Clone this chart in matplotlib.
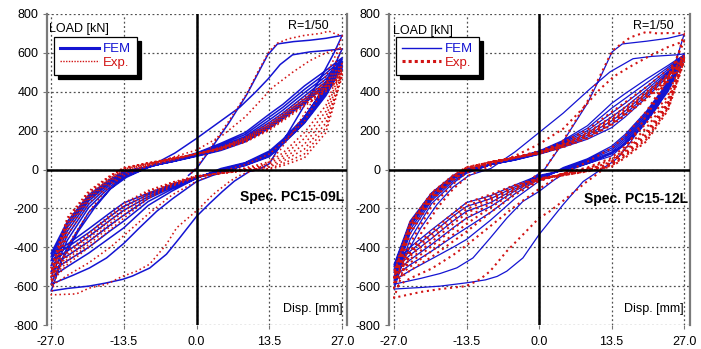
import matplotlib
matplotlib.use("Agg")
import matplotlib.pyplot as plt
from matplotlib.lines import Line2D

plt.rcParams['font.family'] = ['Liberation Sans', 'DejaVu Sans']

# ---------------- data ----------------
x_ticks = [-27.0, -13.5, 0.0, 13.5, 27.0]
y_ticks = [-800, -600, -400, -200, 0, 200, 400, 600, 800]

# shared displacement grids for the repeated cycles
XD = [27, 24, 20, 16, 13.5, 9, 4.5, 0, -4.5, -9, -13.5, -16, -20, -24, -27]   # + peak -> - peak
XU = [-27, -24, -20, -16, -13.5, -9, -4.5, 0, 4.5, 9, 13.5, 16, 20, 24, 27]   # - peak -> + peak

# ---- PC15-09L, FEM ----
l_fem_virgin_x = [-1.5, 0, 3, 6, 9.3, 11.5, 13.2, 15, 18, 21, 24, 27]
l_fem_virgin_y = [-30, 5, 120, 240, 385, 500, 590, 646, 658, 665, 675, 690]
l_fem_unl1_x = [27, 25.5, 23, 20, 17, 15, 13.5, 11.5, 9.8, 7, 4.8, 2.4, 0, -3.2, -5.6, -8.7, -11.9, -13.7, -17, -20, -24, -27]
l_fem_unl1_y = [690, 600, 470, 330, 190, 100, 30, 0, -10, -60, -113, -175, -241, -354, -436, -507, -548, -565, -585, -600, -612, -625]
l_fem_rel1_x = [-27, -25, -22, -19, -16, -13, -8.7, -4, 0, 4, 8, 11, 13.3, 15.5, 17.8, 21, 24, 27]
l_fem_rel1_y = [-625, -470, -320, -200, -100, -40, 15, 85, 160, 240, 320, 400, 467, 540, 590, 605, 612, 620]
l_fem_unl2_x = [27, 25, 22, 19, 16, 13.5, 10, 6, 3, 0, -4.4, -7.4, -10.6, -13.5, -16.7, -19.9, -23, -27]
l_fem_unl2_y = [620, 500, 350, 230, 140, 85, 35, -5, -30, -62, -149, -215, -300, -380, -455, -507, -545, -590]
l_fem_up = [
    [-590, -400, -220, -100, -40, 10, 48, 85, 135, 190, 285, 335, 430, 510, 575],
    [-555, -365, -195, -88, -32, 12, 46, 82, 128, 180, 270, 320, 412, 495, 565],
    [-525, -340, -178, -76, -25, 14, 45, 78, 120, 170, 255, 305, 395, 480, 555],
    [-495, -318, -162, -66, -20, 15, 44, 75, 113, 162, 242, 290, 378, 466, 545],
    [-470, -298, -150, -60, -15, 15, 42, 72, 107, 155, 230, 278, 362, 452, 535],
    [-450, -282, -140, -55, -12, 15, 41, 70, 102, 148, 220, 268, 350, 440, 525],
    [-432, -268, -130, -50, -10, 15, 40, 68, 98, 142, 212, 260, 340, 430, 515],
]
l_fem_down = [
    [575, 430, 270, 155, 95, 35, 5, -45, -110, -185, -300, -350, -430, -500, -555],
    [565, 420, 262, 150, 88, 32, 0, -45, -100, -165, -265, -315, -400, -470, -525],
    [555, 410, 255, 145, 82, 28, -4, -42, -92, -150, -235, -285, -370, -445, -495],
    [545, 400, 248, 140, 76, 24, -6, -40, -86, -140, -210, -260, -345, -420, -470],
    [535, 390, 243, 135, 70, 22, -8, -40, -80, -130, -190, -240, -325, -400, -450],
    [525, 380, 238, 130, 66, 20, -10, -38, -76, -122, -172, -222, -305, -385, -432],
]

# ---- PC15-09L, Exp ----
l_exp_virgin_x = [-1, 0, 3, 6, 9.3, 11.5, 13.5, 15, 17, 20, 23, 24.5, 26, 27]
l_exp_virgin_y = [-20, 10, 130, 250, 390, 510, 610, 650, 672, 690, 700, 712, 695, 690]
l_exp_unl1_x = [27, 26, 24, 21, 18, 15.5, 13.5, 11, 8, 6.1, 3, 0.5, -3.7, -5.6, -8.7, -11.1, -13.7, -16.7, -19.9, -22.3, -27]
l_exp_unl1_y = [690, 600, 480, 330, 200, 100, 40, 0, -30, -62, -130, -200, -300, -385, -487, -523, -549, -590, -610, -640, -645]
l_exp_rel1_x = [-27, -25.5, -23, -20, -17, -14, -11, -6, 0, 5, 9, 11.7, 14, 17.8, 21, 24, 27]
l_exp_rel1_y = [-645, -500, -350, -220, -110, -40, 0, 50, 100, 180, 270, 350, 420, 500, 560, 600, 630]
l_exp_unl2_y = [630, 430, 250, 140, 80, 25, -10, -60, -130, -230, -340, -400, -480, -545, -600]
l_exp_up = [
    [-600, -340, -175, -72, -20, 18, 47, 80, 115, 165, 240, 290, 370, 450, 545],
    [-580, -315, -155, -58, -10, 24, 51, 80, 112, 160, 232, 282, 362, 440, 530],
    [-565, -298, -145, -50, -3, 27, 53, 80, 110, 156, 226, 275, 355, 432, 515],
    [-550, -282, -135, -44, 2, 30, 55, 80, 108, 152, 220, 268, 348, 425, 500],
    [-535, -270, -126, -39, 5, 32, 56, 80, 106, 148, 214, 262, 340, 418, 490],
    [-520, -258, -118, -34, 8, 33, 57, 80, 104, 144, 208, 256, 333, 410, 480],
    [-505, -248, -110, -30, 10, 34, 58, 80, 102, 140, 202, 250, 326, 402, 470],
]
l_exp_down = [
    [545, 330, 190, 85, 40, 8, -15, -40, -85, -150, -250, -310, -400, -490, -580],
    [530, 300, 160, 70, 30, 3, -18, -38, -80, -140, -232, -292, -385, -475, -565],
    [515, 270, 130, 55, 20, 0, -20, -36, -75, -130, -215, -275, -370, -462, -550],
    [500, 240, 105, 42, 12, -3, -20, -35, -72, -122, -200, -260, -355, -450, -535],
    [490, 215, 80, 30, 5, -5, -20, -34, -68, -115, -185, -245, -340, -438, -520],
    [480, 190, 60, 20, 0, -7, -20, -33, -65, -108, -172, -232, -328, -425, -505],
]

# ---- PC15-12L, FEM ----
r_fem_virgin_x = [-1.5, 1, 3.5, 6, 9, 11.5, 13.6, 15.5, 20, 24, 27]
r_fem_virgin_y = [-50, 0, 100, 210, 340, 480, 605, 646, 660, 675, 695]
r_fem_unl1_x = [27, 25.5, 23, 20, 17, 15, 13.8, 11, 8.2, 4.5, 0, -3, -6, -7.8, -10, -13.5, -18.4, -22, -27]
r_fem_unl1_y = [695, 560, 400, 260, 140, 70, 41, -10, -62, -180, -335, -455, -523, -550, -568, -583, -600, -607, -615]
r_fem_rel1_x = [-27, -25, -22, -19, -16, -13, -9, -4.5, 0, 4.5, 9.5, 13.2, 17.5, 21, 25.7, 27]
r_fem_rel1_y = [-615, -450, -300, -180, -90, -30, 5, 90, 190, 290, 415, 502, 570, 582, 590, 595]
r_fem_unl2_x = [27, 25, 22, 19, 16, 13.5, 10, 6, 3, 0, -3, -6, -9.1, -12.3, -15.3, -18.4, -22, -27]
r_fem_unl2_y = [595, 470, 320, 210, 130, 85, 40, 0, -50, -113, -164, -250, -353, -455, -506, -535, -560, -590]
r_fem_up = [
    [-590, -360, -175, -70, -20, 25, 60, 95, 150, 225, 340, 390, 465, 535, 590],
    [-570, -330, -160, -60, -15, 25, 57, 92, 144, 212, 315, 365, 445, 525, 585],
    [-550, -310, -150, -50, -10, 25, 55, 88, 138, 200, 290, 340, 425, 515, 580],
    [-530, -295, -140, -45, -5, 25, 52, 85, 132, 188, 270, 320, 410, 505, 575],
    [-515, -285, -130, -40, 0, 25, 50, 82, 126, 176, 250, 300, 395, 497, 570],
    [-500, -275, -125, -35, 0, 25, 49, 80, 120, 166, 232, 285, 382, 490, 565],
    [-490, -265, -120, -30, 5, 25, 48, 78, 115, 156, 215, 270, 370, 480, 560],
]
r_fem_down = [
    [590, 450, 300, 180, 120, 55, 10, -60, -150, -260, -360, -400, -460, -520, -570],
    [585, 440, 290, 170, 110, 50, 5, -50, -125, -220, -300, -345, -420, -490, -550],
    [580, 430, 280, 160, 100, 45, 0, -45, -110, -190, -250, -300, -385, -465, -530],
    [575, 420, 270, 150, 90, 40, 0, -40, -100, -170, -215, -265, -355, -440, -515],
    [570, 410, 260, 140, 80, 35, -5, -35, -90, -150, -190, -240, -330, -420, -500],
    [565, 400, 250, 130, 70, 30, -5, -30, -80, -135, -170, -225, -310, -400, -490],
]

# ---- PC15-12L, Exp ----
r_exp_virgin_x = [-1, 1, 3.5, 6, 9, 11.5, 13.6, 15, 17, 18.3, 20, 22, 24, 27]
r_exp_virgin_y = [-40, 0, 105, 215, 350, 490, 610, 640, 680, 692, 708, 700, 702, 700]
r_exp_unl1_x = [27, 26, 24, 21, 18, 15.5, 13, 11, 8.9, 5, 2, 0, -3, -6, -9.1, -11, -13.5, -18.4, -22, -27]
r_exp_unl1_y = [700, 600, 470, 320, 190, 90, 30, -20, -62, -150, -215, -250, -335, -420, -523, -565, -600, -615, -630, -660]
r_exp_rel1_x = [-27, -25, -22, -19, -16, -13, -9, -4.5, 0, 4.5, 8, 11.4, 14, 17.5, 21, 24, 27]
r_exp_rel1_y = [-660, -500, -330, -200, -100, -30, 20, 70, 130, 210, 310, 415, 480, 538, 590, 630, 660]
r_exp_unl2_y = [660, 470, 300, 170, 110, 40, -20, -100, -190, -290, -390, -440, -510, -560, -610]
r_exp_up = [
    [-610, -380, -190, -75, -15, 30, 62, 95, 140, 205, 295, 345, 425, 515, 590],
    [-580, -330, -160, -55, -5, 35, 62, 90, 130, 190, 270, 320, 400, 490, 580],
    [-565, -310, -148, -48, 0, 36, 62, 88, 127, 184, 260, 310, 392, 482, 575],
    [-555, -298, -140, -42, 5, 38, 62, 86, 124, 178, 250, 300, 385, 475, 570],
    [-545, -288, -132, -38, 8, 38, 62, 85, 120, 172, 242, 292, 378, 468, 565],
    [-535, -280, -126, -34, 10, 38, 61, 84, 118, 166, 235, 285, 370, 460, 560],
    [-525, -272, -120, -30, 12, 38, 60, 82, 115, 160, 228, 278, 362, 452, 555],
]
r_exp_down = [
    [590, 380, 240, 120, 60, 10, -20, -60, -130, -220, -320, -370, -450, -520, -580],
    [580, 360, 215, 105, 50, 5, -22, -55, -115, -195, -280, -335, -420, -500, -565],
    [575, 345, 195, 95, 40, 0, -25, -52, -105, -175, -250, -305, -395, -480, -555],
    [570, 335, 180, 85, 32, -3, -27, -50, -98, -160, -225, -280, -372, -462, -545],
    [565, 325, 168, 75, 25, -5, -28, -48, -92, -148, -205, -260, -352, -445, -535],
    [560, 315, 155, 68, 20, -8, -30, -46, -86, -138, -188, -242, -335, -430, -525],
    [555, 305, 145, 60, 15, -10, -30, -45, -80, -128, -172, -225, -318, -415, -515],
]

spec_names = ["Spec. PC15-09L", "Spec. PC15-12L"]

BLUE = "#1414d2"
RED = "#d21414"


def build_path(segments, ups, downs, unl2_y=None):
    xs, ys = [], []
    for sx, sy in segments:
        xs += list(sx)
        ys += list(sy)
    if unl2_y is not None:
        xs += XD
        ys += unl2_y
    for k in range(len(ups)):
        xs += XU
        ys += ups[k]
        if k < len(downs):
            xs += XD
            ys += downs[k]
    return xs, ys


fig = plt.figure(figsize=(7.01, 3.49), dpi=100)
ax_l = fig.add_axes([47 / 701, 1 - 325 / 349, 300 / 701, 311 / 349])
ax_r = fig.add_axes([389 / 701, 1 - 325 / 349, 301 / 701, 311 / 349])

panels = [
    dict(ax=ax_l, xlim=(-27.75, 27.9),
         fem=build_path([(l_fem_virgin_x, l_fem_virgin_y), (l_fem_unl1_x, l_fem_unl1_y),
                         (l_fem_rel1_x, l_fem_rel1_y), (l_fem_unl2_x, l_fem_unl2_y)],
                        l_fem_up, l_fem_down),
         exp=build_path([(l_exp_virgin_x, l_exp_virgin_y), (l_exp_unl1_x, l_exp_unl1_y),
                         (l_exp_rel1_x, l_exp_rel1_y)],
                        l_exp_up, l_exp_down, l_exp_unl2_y),
         fem_lw=1.1, exp_lw=1.15, leg_fem_lw=2.2, leg_exp_lw=1.0,
         name=spec_names[0], name_xy=(27.3, -140),
         load_xy=(-27.3, 723), r_xy=(24.5, 738)),
    dict(ax=ax_r, xlim=(-27.93, 28.1),
         fem=build_path([(r_fem_virgin_x, r_fem_virgin_y), (r_fem_unl1_x, r_fem_unl1_y),
                         (r_fem_rel1_x, r_fem_rel1_y), (r_fem_unl2_x, r_fem_unl2_y)],
                        r_fem_up, r_fem_down),
         exp=build_path([(r_exp_virgin_x, r_exp_virgin_y), (r_exp_unl1_x, r_exp_unl1_y),
                         (r_exp_rel1_x, r_exp_rel1_y)],
                        r_exp_up, r_exp_down, r_exp_unl2_y),
         fem_lw=0.9, exp_lw=1.5, leg_fem_lw=1.0, leg_exp_lw=2.2,
         name=spec_names[1], name_xy=(27.7, -150),
         load_xy=(-27.2, 713), r_xy=(25.0, 738)),
]

for p in panels:
    ax = p["ax"]
    ax.set_xlim(*p["xlim"])
    ax.set_ylim(-800, 800)
    ax.set_xticks(x_ticks)
    ax.set_xticklabels([f"{v:.1f}" for v in x_ticks])
    ax.set_yticks(y_ticks)
    ax.set_yticklabels([str(v) for v in y_ticks])
    ax.tick_params(axis='both', labelsize=9, length=3, width=0.8, color='#777777', pad=3)
    ax.tick_params(axis='x', pad=5)
    for s in ("top", "bottom"):
        ax.spines[s].set_visible(False)
    for s in ("left", "right"):
        ax.spines[s].set_color('#7a7a7a')
        ax.spines[s].set_linewidth(1.6)
    ax.grid(True, color='#505050', linestyle=(0, (1.5, 2.0)), linewidth=0.9)
    ax.set_axisbelow(True)

    ex, ey = p["exp"]
    fx, fy = p["fem"]
    ax.plot(fx, fy, color=BLUE, lw=p["fem_lw"], zorder=2)
    ax.plot(ex, ey, color=RED, lw=p["exp_lw"], linestyle=(0, (1, 1.8)), zorder=2.5)

    ax.axhline(0, color='black', lw=1.8, zorder=3)
    ax.axvline(0, color='black', lw=1.8, zorder=3)

    ax.text(p["load_xy"][0], p["load_xy"][1], "LOAD [kN]", fontsize=9, ha='left', va='center', zorder=5)
    ax.text(p["r_xy"][0], p["r_xy"][1], "R=1/50", fontsize=9, ha='right', va='center', zorder=5)
    ax.text(p["name_xy"][0], p["name_xy"][1], p["name"], fontsize=10, fontweight='bold',
            ha='right', va='center', zorder=5)
    ax.text(27.0, -718, "Disp. [mm]", fontsize=9, ha='right', va='center', zorder=5)

    handles = [Line2D([], [], color=BLUE, lw=p["leg_fem_lw"]),
               Line2D([], [], color=RED, lw=p["leg_exp_lw"], linestyle=(0, (1, 1)))]
    leg = ax.legend(handles, ["FEM", "Exp."], loc='upper left', bbox_to_anchor=(0.022, 0.925),
                    borderaxespad=0, fontsize=9.5, frameon=True, fancybox=False,
                    shadow={'color': 'black', 'alpha': 1.0, 'ox': 3, 'oy': -3},
                    framealpha=1, edgecolor='black',
                    handlelength=3.0, handletextpad=0.3, labelspacing=0.1, borderpad=0.45,
                    labelcolor='linecolor')
    leg.get_frame().set_linewidth(0.9)
    leg.set_zorder(6)

fig.savefig("out.png", dpi=100)
